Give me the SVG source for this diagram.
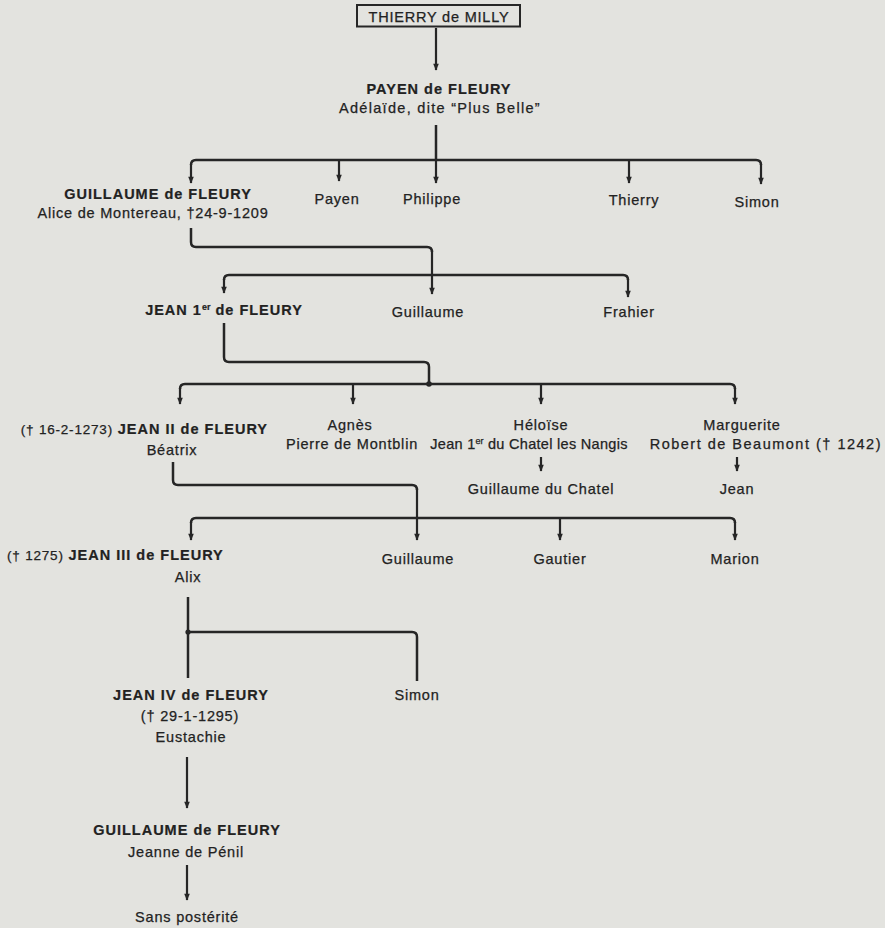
<svg xmlns="http://www.w3.org/2000/svg" width="885" height="928" viewBox="0 0 885 928">
<defs>
<style>
text{font-family:"Liberation Sans",Arial,sans-serif;font-size:14.5px;fill:#222;stroke:#222;stroke-width:0.25;letter-spacing:0.8px;text-anchor:middle}
.b{font-weight:bold;letter-spacing:1px;stroke-width:0.2}
.s{text-anchor:start}
.e{text-anchor:end}
.ln{fill:none;stroke:#262626;stroke-width:2.5;stroke-linejoin:round}
.ar{fill:none;stroke:#262626;stroke-width:2.2;marker-end:url(#ah)}
.sup{font-size:9px;letter-spacing:0}
</style>
<marker id="ah" viewBox="0 0 10 10" refX="9" refY="5" markerWidth="8" markerHeight="7" markerUnits="userSpaceOnUse" orient="auto">
<path d="M0,1 L10,5 L0,9 Z" fill="#262626"/>
</marker>
</defs>
<rect width="885" height="928" fill="#e3e3df"/>
<g id="connectors">
<path class="ar" d="M436,28 V70"/>
<path class="ln" d="M436,125 V160"/>
<path class="ln" d="M191,165 Q191,160 196,160 H756 Q761,160 761,165"/>
<path class="ar" d="M191,164 V183"/>
<path class="ar" d="M339,160 V181"/>
<path class="ar" d="M436,160 V183"/>
<path class="ar" d="M629,160 V183"/>
<path class="ar" d="M761,164 V184"/>
<path class="ln" d="M191,228 V242 Q191,247 196,247 H427 Q432,247 432,252"/>
<path class="ar" d="M432,250 V294"/>
<path class="ln" d="M224,280 Q224,275 229,275 H623 Q628,275 628,280"/>
<path class="ar" d="M224,279 V293"/>
<path class="ar" d="M628,279 V297"/>
<path class="ln" d="M224,323 V357 Q224,362 229,362 H424 Q429,362 429,367 V384"/>
<circle cx="429" cy="384" r="2.8" fill="#262626"/>
<path class="ln" d="M180,389 Q180,384 185,384 H730 Q735,384 735,389"/>
<path class="ar" d="M180,388 V404"/>
<path class="ar" d="M353,384 V404"/>
<path class="ar" d="M541,384 V404"/>
<path class="ar" d="M735,388 V404"/>
<path class="ar" d="M541,457 V471"/>
<path class="ar" d="M737,457 V471"/>
<path class="ln" d="M173,462 V480 Q173,485 178,485 H412 Q417,485 417,490"/>
<path class="ar" d="M417,488 V540"/>
<path class="ln" d="M191,523 Q191,518 196,518 H730 Q735,518 735,523"/>
<path class="ar" d="M191,522 V540"/>
<path class="ar" d="M560,518 V540"/>
<path class="ar" d="M735,522 V540"/>
<path class="ln" d="M188,597 V678"/>
<path class="ln" d="M188,632 H412 Q417,632 417,637 V681"/>
<circle cx="188" cy="632" r="2.6" fill="#262626"/>
<path class="ar" d="M187,757 V808" stroke-width="2.8"/>
<path class="ar" d="M187,865 V900" stroke-width="2.8"/>
</g>
<g id="thierry-de-milly">
<rect x="357" y="5" width="163" height="21.5" fill="none" stroke="#262626" stroke-width="2"/>
<text x="439" y="22">THIERRY de MILLY</text>
</g>
<g id="payen-de-fleury">
<text class="b" x="439" y="94">PAYEN de FLEURY</text>
<text x="440" y="113" style="letter-spacing:1.3px">Adélaïde, dite “Plus Belle”</text>
</g>
<g id="guillaume-de-fleury-1">
<text class="b" x="158" y="199">GUILLAUME de FLEURY</text>
<text x="153" y="218">Alice de Montereau, †24-9-1209</text>
</g>
<g id="payen"><text x="337" y="204">Payen</text></g>
<g id="philippe"><text x="432" y="204">Philippe</text></g>
<g id="thierry"><text x="634" y="205">Thierry</text></g>
<g id="simon-1"><text x="757" y="207">Simon</text></g>
<g id="jean-1-de-fleury">
<text class="b" x="224" y="315">JEAN 1<tspan class="sup" dy="-5">er</tspan><tspan dy="5"> de FLEURY</tspan></text>
</g>
<g id="guillaume-2"><text x="428" y="317">Guillaume</text></g>
<g id="frahier"><text x="629" y="317">Frahier</text></g>
<g id="jean-2-de-fleury">
<text class="e" x="268" y="434"><tspan font-size="13.5">(† 16-2-1273)</tspan> <tspan class="b">JEAN II de FLEURY</tspan></text>
<text x="172" y="455">Béatrix</text>
</g>
<g id="agnes">
<text x="350" y="430">Agnès</text>
<text x="352" y="449">Pierre de Montblin</text>
</g>
<g id="heloise">
<text x="528" y="430" dx="13">Héloïse</text>
<text x="529" y="449" style="letter-spacing:0.3px">Jean 1<tspan class="sup" dy="-5">er</tspan><tspan dy="5"> du Chatel les Nangis</tspan></text>
</g>
<g id="marguerite">
<text x="742" y="430">Marguerite</text>
<text class="e" x="882" y="449" style="letter-spacing:1.5px">Robert de Beaumont († 1242)</text>
</g>
<g id="guillaume-du-chatel"><text x="541" y="494">Guillaume du Chatel</text></g>
<g id="jean"><text x="737" y="494">Jean</text></g>
<g id="jean-3-de-fleury">
<text class="s" x="7" y="560"><tspan font-size="13.5">(† 1275)</tspan> <tspan class="b">JEAN III de FLEURY</tspan></text>
<text x="188" y="582">Alix</text>
</g>
<g id="guillaume-3"><text x="418" y="564">Guillaume</text></g>
<g id="gautier"><text x="560" y="564">Gautier</text></g>
<g id="marion"><text x="735" y="564">Marion</text></g>
<g id="jean-4-de-fleury">
<text class="b" x="191" y="700">JEAN IV de FLEURY</text>
<text x="190" y="721">(† 29-1-1295)</text>
<text x="191" y="742">Eustachie</text>
</g>
<g id="simon-2"><text x="417" y="700">Simon</text></g>
<g id="guillaume-de-fleury-2">
<text class="b" x="187" y="835">GUILLAUME de FLEURY</text>
<text x="186" y="857">Jeanne de Pénil</text>
</g>
<g id="sans-posterite"><text x="187" y="922">Sans postérité</text></g>
</svg>
